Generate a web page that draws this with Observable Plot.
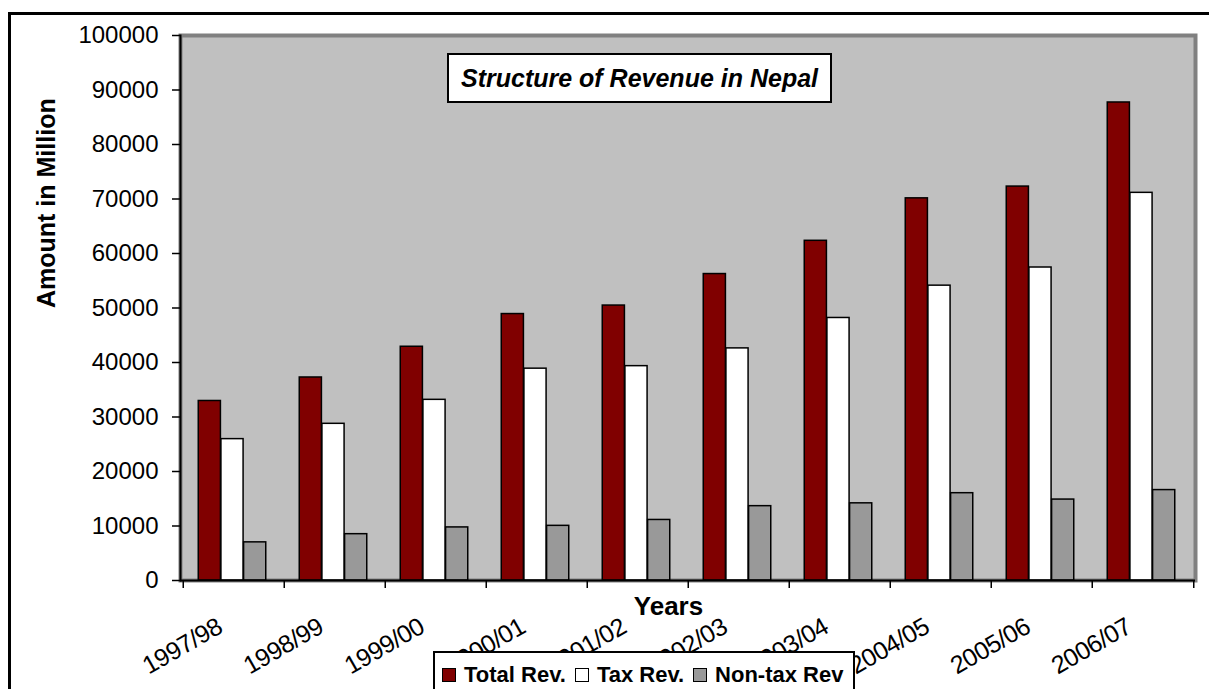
<!DOCTYPE html>
<html>
<head>
<meta charset="utf-8">
<script src="https://cdn.jsdelivr.net/npm/d3@7"></script>
<script src="https://cdn.jsdelivr.net/npm/@observablehq/plot@0.6"></script>
<style>
  html, body { margin: 0; padding: 0; background: #fff; }
  body { font-family: "Liberation Sans", Arial, sans-serif; }
  #wrap { position: relative; width: 1209px; height: 689px; overflow: hidden; background: #fff; }
  #border { position: absolute; left: 8px; top: 12px; width: 1300px; height: 800px; border: 3px solid #000; box-sizing: border-box; }
  #chart { position: absolute; left: 0; top: 0; }
  #title { position: absolute; left: 447px; top: 53px; width: 385px; height: 50px; box-sizing: border-box;
    border: 2px solid #000; background: #fff; display: flex; align-items: center; justify-content: center;
    font-weight: bold; font-style: italic; font-size: 25px; color: #000; white-space: nowrap; }
  #legend { position: absolute; left: 433px; top: 651px; width: 422px; height: 60px; box-sizing: border-box;
    border: 2px solid #000; background: #fff; padding: 9px 0 0 7px; display: flex; align-items: flex-start;
    font-weight: bold; font-size: 22px; color: #000; white-space: nowrap; }
  .item { display: flex; align-items: center; margin-right: 9px; }
  .sw { width: 12px; height: 12px; border: 1.5px solid #000; margin-right: 8px; box-sizing: content-box; }
  g[aria-label="x-axis tick label"] text { letter-spacing: -0.5px; }
</style>
</head>
<body>
<div id="wrap">
  <div id="border"></div>
  <div id="chart"></div>
  <div id="title">Structure of Revenue in Nepal</div>
  <div id="legend"></div>
</div>
<script>
const years = ["1997/98","1998/99","1999/00","2000/01","2001/02","2002/03","2003/04","2004/05","2005/06","2006/07"];
const seriesNames = ["Total Rev.", "Tax Rev.", "Non-tax Rev"];
const totalRev = [32940, 37250, 42890, 48890, 50450, 56230, 62330, 70120, 72280, 87710];
const taxRev   = [25940, 28750, 33150, 38870, 39330, 42590, 48170, 54100, 57430, 71130];
const nonTaxRev = [7000, 8500, 9740, 10030, 11110, 13640, 14160, 16020, 14850, 16590];
const seriesColors = ["#800000", "#ffffff", "#999999"];
const yTicks = [0, 10000, 20000, 30000, 40000, 50000, 60000, 70000, 80000, 90000, 100000];

const seriesValues = [totalRev, taxRev, nonTaxRev];
const rows = [];
seriesNames.forEach((s, si) => years.forEach((y, i) => rows.push({year: y, series: s, value: seriesValues[si][i]})));

const W = 1209, H = 689, mL = 180, mR = 14, mT = 35, mB = 109;
const step = (W - mL - mR) / years.length;
const barW = step * 0.2233;
const off0 = (step - 3 * barW) / 2 - 1.5;

const barMarks = seriesNames.map((s, si) => Plot.barY(rows.filter(d => d.series === s), {
  x: "year", y: "value", fill: "series", stroke: "#000", strokeWidth: 1.5,
  insetLeft: off0 + si * barW, insetRight: step - off0 - (si + 1) * barW
}));

const frameH = H - mT - mB;

const plot = Plot.plot({
  width: W, height: H,
  marginLeft: mL, marginRight: mR, marginTop: mT, marginBottom: mB,
  style: {fontFamily: "'Liberation Sans', Arial, sans-serif", color: "#000", background: "transparent", overflow: "visible"},
  x: {domain: years, padding: 0},
  y: {domain: [0, 100000]},
  color: {domain: seriesNames, range: seriesColors},
  marks: [
    Plot.frame({fill: "#c0c0c0", stroke: "#808080", strokeWidth: 4}),
    ...barMarks,
    Plot.ruleY([0], {stroke: "#000", strokeWidth: 2}),
    Plot.frame({anchor: "left", stroke: "#000", strokeWidth: 2}),
    Plot.axisY(yTicks, {tickSize: 8, tickPadding: 14, fontSize: 24, tickFormat: d3.format("d"), label: null, strokeWidth: 1.5}),
    Plot.axisX({tickSize: 0, tickRotate: -30, tickPadding: 44, textAnchor: "end", lineAnchor: "middle", dx: -14, fontSize: 25, label: null}),
    Plot.ruleX(years, {x: d => d, dx: -step / 2, insetTop: frameH - 8, dy: 8, stroke: "#000", strokeWidth: 1.5}),
    Plot.ruleX(years.slice(-1), {x: d => d, dx: step / 2, insetTop: frameH - 8, dy: 8, stroke: "#000", strokeWidth: 1.5}),
    Plot.text(["Amount in Million"], {frameAnchor: "left", text: d => d, rotate: -90, dx: -134, fontSize: 25, fontWeight: "bold", fill: "#000"}),
    Plot.text(["Years"], {frameAnchor: "bottom", text: d => d, dx: -19.5, dy: 34, fontSize: 26, fontWeight: "bold", fill: "#000"})
  ]
});
document.getElementById("chart").appendChild(plot);

const legend = document.getElementById("legend");
seriesNames.forEach((s, i) => {
  const item = document.createElement("div");
  item.className = "item";
  const sw = document.createElement("div");
  sw.className = "sw";
  sw.style.background = seriesColors[i];
  const t = document.createElement("span");
  t.textContent = s;
  item.appendChild(sw); item.appendChild(t);
  legend.appendChild(item);
});
</script>
</body>
</html>
